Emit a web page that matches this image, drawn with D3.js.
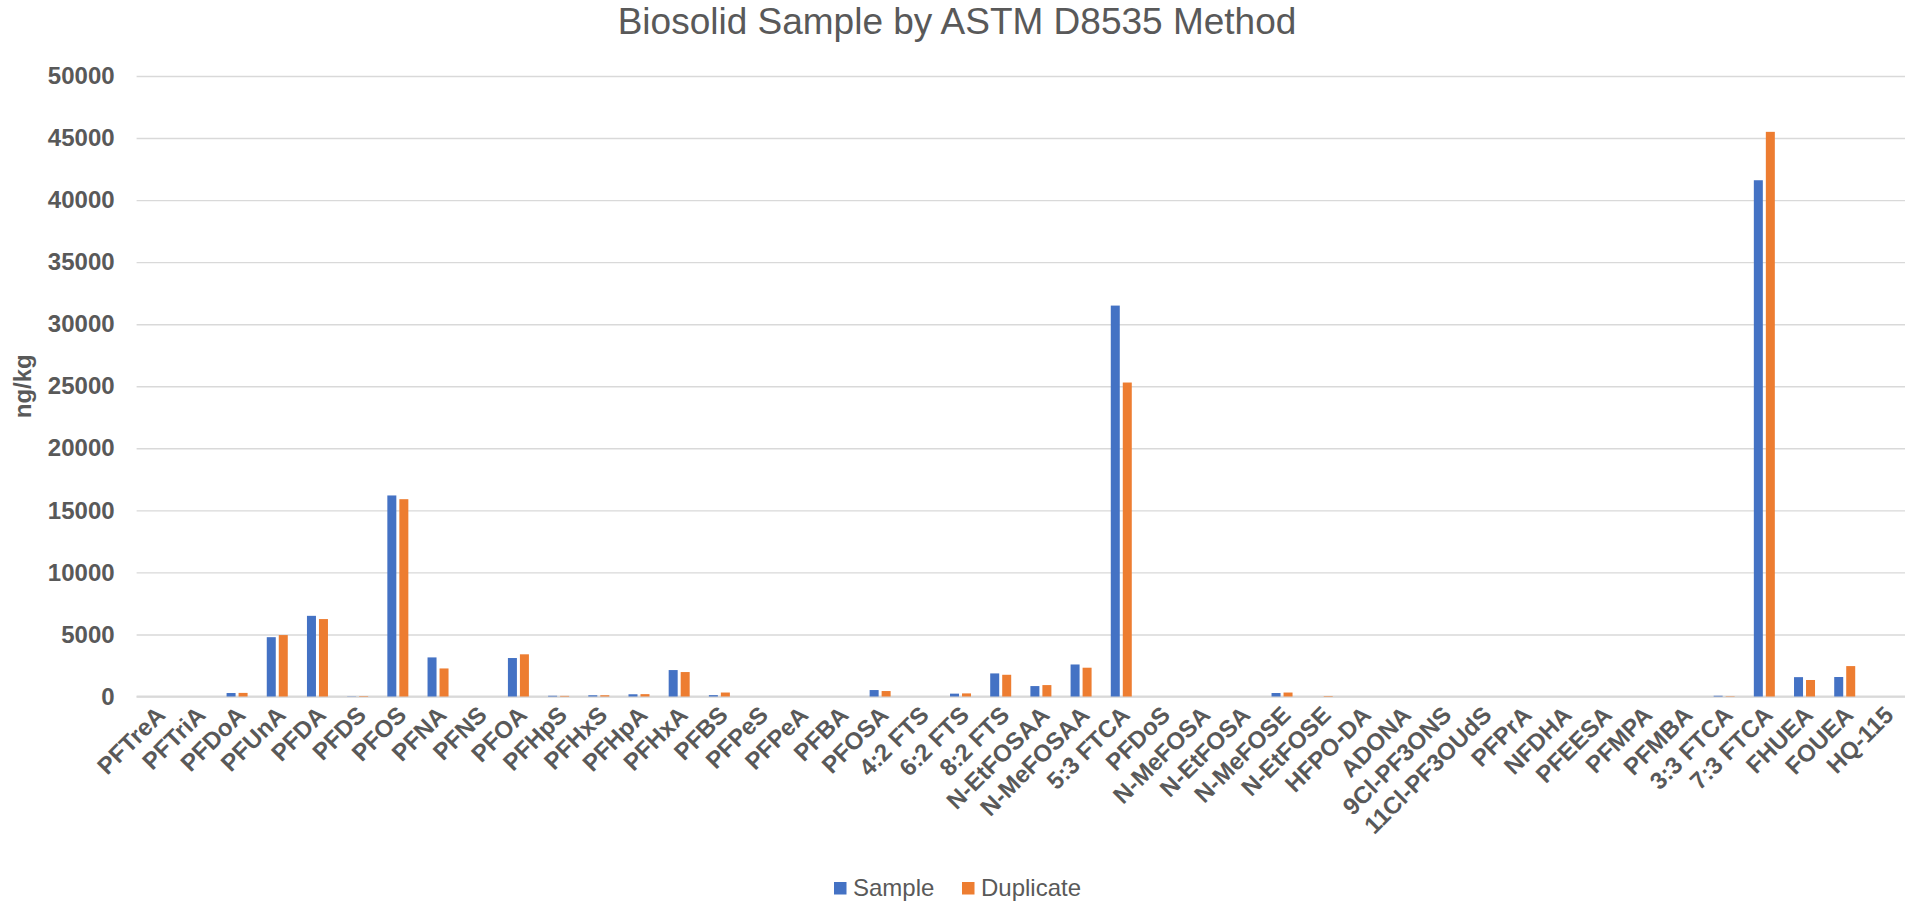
<!DOCTYPE html>
<html>
<head>
<meta charset="utf-8">
<script src="https://cdn.jsdelivr.net/npm/d3@7"></script>
<style>
  html, body { margin: 0; padding: 0; background: #ffffff; }
  svg { display: block; font-family: Arial, "Liberation Sans", sans-serif; }
</style>
</head>
<body>
<svg id="chart" width="1916" height="902"></svg>
<script>
// Compounds measured, in plotting order
const categories = [
  "PFTreA", "PFTriA", "PFDoA", "PFUnA", "PFDA", "PFDS", "PFOS", "PFNA", "PFNS", "PFOA",
  "PFHpS", "PFHxS", "PFHpA", "PFHxA", "PFBS", "PFPeS", "PFPeA", "PFBA", "PFOSA", "4:2 FTS",
  "6:2 FTS", "8:2 FTS", "N-EtFOSAA", "N-MeFOSAA", "5:3 FTCA", "PFDoS", "N-MeFOSA", "N-EtFOSA",
  "N-MeFOSE", "N-EtFOSE", "HFPO-DA", "ADONA", "9Cl-PF3ONS", "11Cl-PF3OUdS", "PFPrA", "NFDHA",
  "PFEESA", "PFMPA", "PFMBA", "3:3 FTCA", "7:3 FTCA", "FHUEA", "FOUEA", "HQ-115"
];

// Concentrations, ng/kg
const sampleValues = [
  0, 0, 280, 4780, 6500, 20, 16200, 3150, 0, 3100,
  60, 100, 180, 2130, 110, 0, 0, 0, 520, 0,
  230, 1860, 840, 2580, 31500, 0, 0, 0,
  280, 0, 0, 0, 0, 0, 0, 0,
  0, 0, 0, 60, 41600, 1560, 1570, 0
];
const duplicateValues = [
  0, 0, 290, 4950, 6240, 40, 15900, 2260, 0, 3400,
  50, 100, 190, 1970, 320, 0, 0, 0, 440, 0,
  250, 1750, 920, 2320, 25300, 0, 0, 0,
  320, 40, 0, 0, 0, 0, 0, 0,
  0, 0, 0, 30, 45500, 1330, 2450, 0
];

const seriesNames = ["Sample", "Duplicate"];
const seriesColors = ["#4472C4", "#ED7D31"];
const yTicks = [0, 5000, 10000, 15000, 20000, 25000, 30000, 35000, 40000, 45000, 50000];

const svg = d3.select("#chart");
const textColor = "#595959";
const gridColor = "#D9D9D9";

const plot = { left: 136.6, right: 1905, top: 76, bottom: 696.5 };

const x = d3.scaleBand()
  .domain(categories)
  .range([plot.left, plot.right])
  .paddingInner(0)
  .paddingOuter(0);

const xInner = d3.scaleBand()
  .domain(seriesNames)
  .range([-10.5, 10.5])
  .paddingInner(0.25);

const y = d3.scaleLinear()
  .domain([0, 50000])
  .range([plot.bottom, plot.top]);

// Horizontal gridlines and value labels
const yAxis = d3.axisLeft(y)
  .tickValues(yTicks)
  .tickSize(-(plot.right - plot.left))
  .tickPadding(22)
  .tickFormat(d3.format("d"));

const yG = svg.append("g")
  .attr("transform", `translate(${plot.left},0)`)
  .call(yAxis);
yG.select(".domain").remove();
yG.selectAll(".tick line")
  .attr("stroke", gridColor)
  .attr("stroke-width", 1.4);
yG.selectAll(".tick text")
  .attr("fill", textColor)
  .attr("font-size", 24)
  .attr("font-weight", "bold")
  .attr("font-family", "Arial, 'Liberation Sans', sans-serif");

// Category axis baseline
svg.append("line")
  .attr("x1", plot.left).attr("x2", plot.right)
  .attr("y1", y(0)).attr("y2", y(0))
  .attr("stroke", gridColor)
  .attr("stroke-width", 2);

// Bars
const rows = categories.map((c, i) => ({
  cat: c,
  vals: [sampleValues[i], duplicateValues[i]]
}));

const groups = svg.append("g").selectAll("g")
  .data(rows)
  .join("g")
  .attr("transform", d => `translate(${x(d.cat) + x.bandwidth() / 2},0)`);

groups.selectAll("rect")
  .data(d => d.vals.map((v, k) => ({ name: seriesNames[k], value: v, k })))
  .join("rect")
  .attr("x", d => xInner(d.name))
  .attr("width", xInner.bandwidth())
  .attr("y", d => y(d.value))
  .attr("height", d => y(0) - y(d.value))
  .attr("fill", d => seriesColors[d.k]);

// Rotated category labels
const xAxis = d3.axisBottom(x).tickSize(0).tickPadding(0);
const xG = svg.append("g")
  .attr("transform", `translate(0,${plot.bottom})`)
  .call(xAxis);
xG.select(".domain").remove();
xG.selectAll(".tick text")
  .attr("fill", textColor)
  .attr("font-size", 24)
  .attr("font-weight", "bold")
  .attr("font-family", "Arial, 'Liberation Sans', sans-serif")
  .attr("text-anchor", "end")
  .attr("dy", null)
  .attr("y", 0)
  .attr("transform", "translate(10,20) rotate(-45)");

// Title
svg.append("text")
  .attr("x", 957)
  .attr("y", 34)
  .attr("text-anchor", "middle")
  .attr("fill", textColor)
  .attr("font-size", 37)
  .text("Biosolid Sample by ASTM D8535 Method");

// Value axis title
svg.append("text")
  .attr("transform", `translate(31,${(plot.top + plot.bottom) / 2}) rotate(-90)`)
  .attr("text-anchor", "middle")
  .attr("fill", textColor)
  .attr("font-size", 24)
  .attr("font-weight", "bold")
  .text("ng/kg");

// Legend
const legendItems = [
  { name: seriesNames[0], color: seriesColors[0], x: 834 },
  { name: seriesNames[1], color: seriesColors[1], x: 962 }
];
const lg = svg.append("g").selectAll("g")
  .data(legendItems)
  .join("g")
  .attr("transform", d => `translate(${d.x},0)`);
lg.append("rect")
  .attr("x", 0).attr("y", 882)
  .attr("width", 12.5).attr("height", 12.5)
  .attr("fill", d => d.color);
lg.append("text")
  .attr("x", 19).attr("y", 896)
  .attr("fill", textColor)
  .attr("font-size", 24)
  .text(d => d.name);
</script>
</body>
</html>
